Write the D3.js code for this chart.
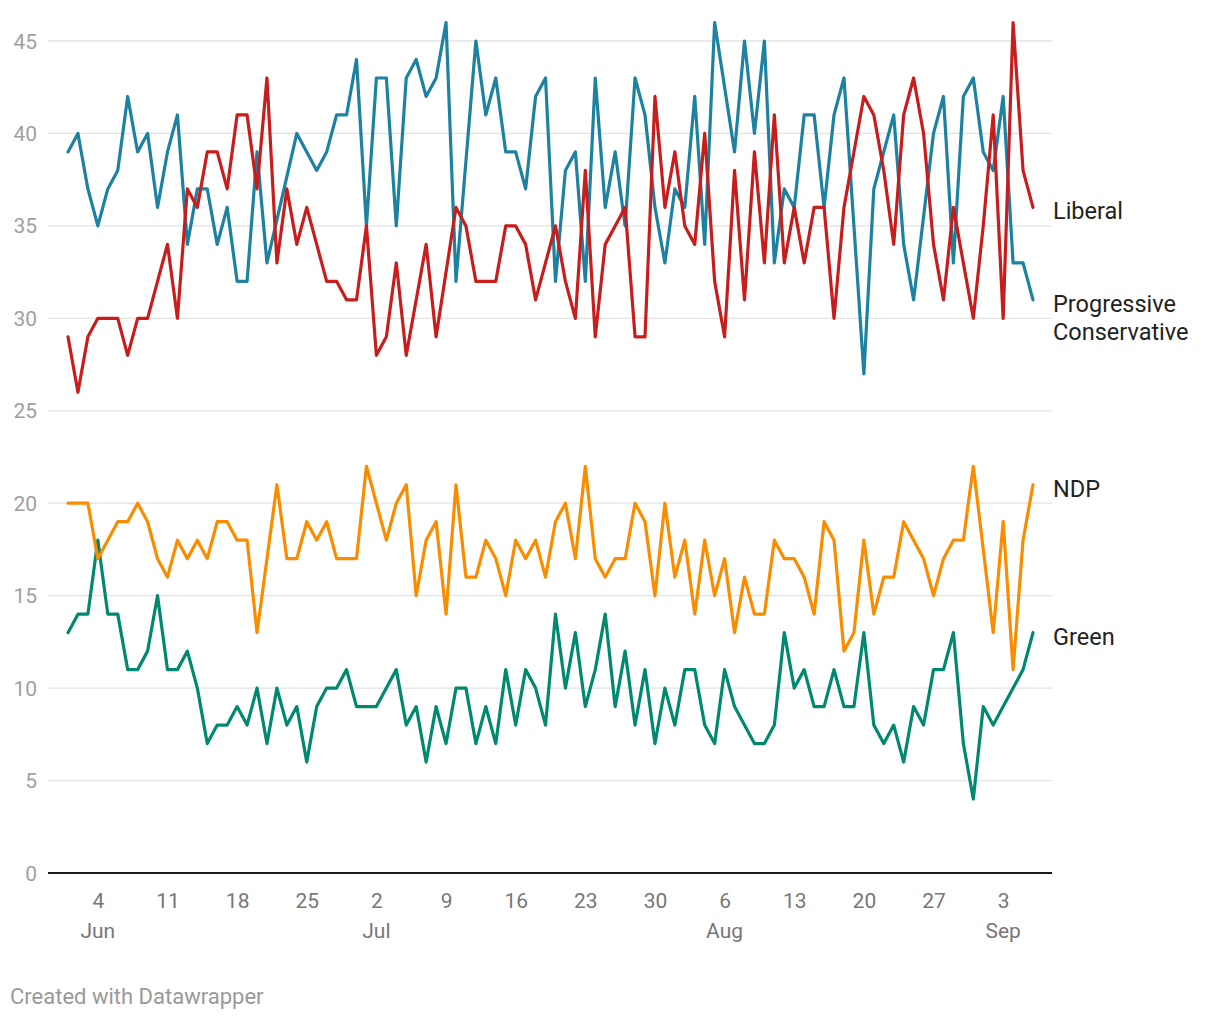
<!DOCTYPE html>
<html><head><meta charset="utf-8">
<script src="https://cdn.jsdelivr.net/npm/d3@7"></script>
<style>
body{margin:0;background:#fff;}
svg{font-family:Roboto, "Noto Sans", sans-serif;}
</style></head><body>
<svg id="chart" width="1220" height="1020"></svg>
<script>
// ---- data (one poll value per day from the start date; null = no value that day) ----
const startDate = "2019-06-01";
const liberal = [
  29,26,29,30,30,30,28,30,30,32,
  34,30,37,36,39,39,37,41,41,37,
  43,33,37,34,36,34,32,32,31,31,
  35,28,29,33,28,31,34,29,null,36,
  35,32,32,32,35,35,34,31,33,35,
  32,30,38,29,34,35,36,29,29,42,
  36,39,35,34,40,32,29,38,31,39,
  33,41,33,36,33,36,36,30,36,39,
  42,41,38,34,41,43,40,34,31,36,
  33,30,35,41,30,46,38,36
];
const progressiveConservative = [
  39,40,37,35,37,38,42,39,40,36,
  39,41,34,37,37,34,36,32,32,39,
  33,null,null,40,39,38,39,41,41,44,
  35,43,43,35,43,44,42,43,46,32,
  null,45,41,43,39,39,37,42,43,32,
  38,39,32,43,36,39,35,43,41,36,
  33,37,36,42,34,46,null,39,45,40,
  45,33,37,36,41,41,36,41,43,35,
  27,37,39,41,34,31,null,40,42,33,
  42,43,39,38,42,33,33,31
];
const ndp = [
  20,20,20,17,18,19,19,20,19,17,
  16,18,17,18,17,19,19,18,18,13,
  17,21,17,17,19,18,19,17,17,17,
  22,20,18,20,21,15,18,19,14,21,
  16,16,18,17,15,18,17,18,16,19,
  20,17,22,17,16,17,17,20,19,15,
  20,16,18,14,18,15,17,13,16,14,
  14,18,17,17,16,14,19,18,12,13,
  18,14,16,16,19,18,17,15,17,18,
  18,22,null,13,19,11,18,21
];
const green = [
  13,14,14,18,14,14,11,11,12,15,
  11,11,12,10,7,8,8,9,8,10,
  7,10,8,9,6,9,10,10,11,9,
  9,9,10,11,8,9,6,9,7,10,
  10,7,9,7,11,8,11,10,8,14,
  10,13,9,11,14,9,12,8,11,7,
  10,8,11,11,8,7,11,9,8,7,
  7,8,13,10,11,9,9,11,9,9,
  13,8,7,8,6,9,8,11,11,13,
  7,4,9,8,9,10,11,13
];
const seriesNames = ["Green", "NDP", "Progressive Conservative", "Liberal"];
const seriesLabelLines = [["Green"], ["NDP"], ["Progressive", "Conservative"], ["Liberal"]];
const yTicks = [0, 5, 10, 15, 20, 25, 30, 35, 40, 45];
const xTickDates = ["2019-06-04","2019-06-11","2019-06-18","2019-06-25","2019-07-02","2019-07-09",
  "2019-07-16","2019-07-23","2019-07-30","2019-08-06","2019-08-13","2019-08-20","2019-08-27","2019-09-03"];
const footerText = "Created with Datawrapper";

// ---- styles ----
const colors = {"Liberal":"#c71e1d","Progressive Conservative":"#1d81a2","NDP":"#fa8c00","Green":"#00896e"};
const values = {"Liberal":liberal,"Progressive Conservative":progressiveConservative,"NDP":ndp,"Green":green};

const parse = d3.utcParse("%Y-%m-%d");
const start = parse(startDate);
const dates = liberal.map((_, i) => d3.utcDay.offset(start, i));

const svg = d3.select("#chart");
const left = 48, right = 1052;
const x = d3.scaleUtc().domain([dates[0], dates[dates.length - 1]]).range([68, 1033]);
const y = d3.scaleLinear().domain([0, 45]).range([873, 41]);

// gridlines
svg.append("g").selectAll("line").data(yTicks.filter(t => t !== 0)).join("line")
  .attr("x1", left).attr("x2", right)
  .attr("y1", d => y(d)).attr("y2", d => y(d))
  .attr("stroke", "#e3e3e3").attr("stroke-width", 1.3);

// y labels
svg.append("g").selectAll("text").data(yTicks).join("text")
  .attr("x", 37).attr("y", d => y(d) + 7.5)
  .attr("text-anchor", "end")
  .attr("font-size", 21).attr("fill", "#a0a0a0")
  .text(d => d);

// x axis
const tickDates = xTickDates.map(parse);
const xAxis = d3.axisBottom(x).tickValues(tickDates).tickSize(0).tickPadding(20)
  .tickFormat(d3.utcFormat("%-d"));
const gx = svg.append("g").attr("transform", `translate(0,${y(0)})`).call(xAxis);
gx.select(".domain").remove();
gx.selectAll("text").attr("font-size", 21).attr("fill", "#777").attr("font-family", "Roboto, sans-serif");

// month labels
const monthFmt = d3.utcFormat("%b");
svg.append("g").selectAll("text")
  .data(tickDates.filter((d, i) => i === 0 || d.getUTCMonth() !== tickDates[i - 1].getUTCMonth()))
  .join("text")
  .attr("x", d => x(d)).attr("y", 938)
  .attr("text-anchor", "middle")
  .attr("font-size", 21).attr("fill", "#777")
  .text(d => monthFmt(d));

// zero baseline
svg.append("line").attr("x1", left).attr("x2", right)
  .attr("y1", y(0)).attr("y2", y(0))
  .attr("stroke", "#1a1a1a").attr("stroke-width", 2);

// lines
const line = d3.line().x(d => x(d.date)).y(d => y(d.v));
seriesNames.forEach(name => {
  const pts = values[name].map((v, i) => ({date: dates[i], v})).filter(d => d.v !== null);
  svg.append("path").datum(pts)
    .attr("d", line)
    .attr("fill", "none")
    .attr("stroke", colors[name])
    .attr("stroke-width", 3.2)
    .attr("stroke-linejoin", "round")
    .attr("stroke-linecap", "round");
});

// series labels
seriesNames.forEach((name, k) => {
  const arr = values[name];
  const last = arr[arr.length - 1];
  const t = svg.append("text")
    .attr("x", 1053).attr("y", y(last) + 12)
    .attr("font-size", 23.5).attr("fill", "#222");
  seriesLabelLines[k].forEach((ln, j) => {
    t.append("tspan").attr("x", 1053).attr("dy", j === 0 ? 0 : 28).text(ln);
  });
});

// footer
svg.append("text").attr("x", 10).attr("y", 1004)
  .attr("font-size", 22).attr("fill", "#999")
  .text(footerText);
</script>
</body></html>
